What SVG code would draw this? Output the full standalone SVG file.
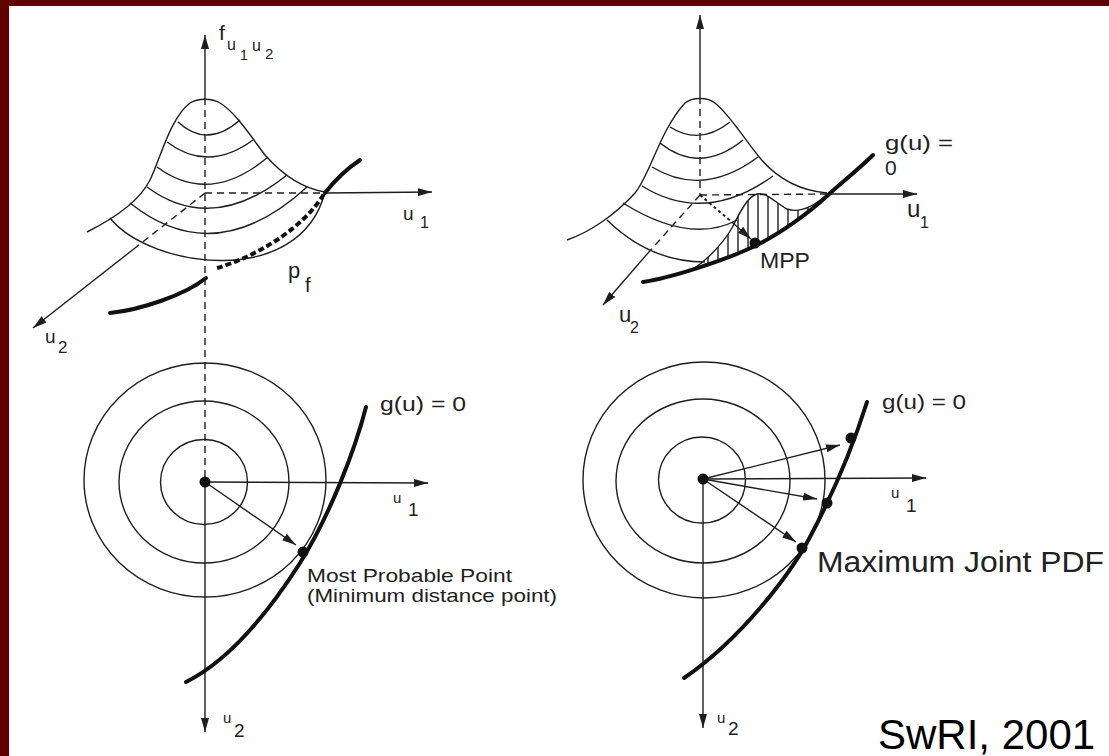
<svg xmlns="http://www.w3.org/2000/svg" width="1109" height="756" viewBox="0 0 1109 756">
<defs>
<style>
.ln{fill:none;stroke:#1e1e1e;stroke-width:1.4}
.ds{fill:none;stroke:#1e1e1e;stroke-width:1.4;stroke-dasharray:7 5}
.dt{fill:none;stroke:#1e1e1e;stroke-width:2;stroke-dasharray:3 3}
.bold{fill:none;stroke:#111;stroke-width:4;stroke-linecap:round}
.bdash{fill:none;stroke:#111;stroke-width:4;stroke-dasharray:6 3}
.dot{fill:#111}
.t{font-family:"Liberation Sans",Arial,sans-serif;fill:#222}
</style>
<marker id="ah" viewBox="0 0 14 8" refX="14" refY="4" markerWidth="14" markerHeight="8" markerUnits="userSpaceOnUse" orient="auto"><path d="M0,0 L14,4 L0,8 z" fill="#1e1e1e"/></marker>
<clipPath id="hatchClip"><path d="M690,271 C705,262 722,245 732,228 C740,212 748,196 757,194 C768,192 775,203 787,209 C800,214 815,205 827,195 C810,212 780,234 753,247 C735,255 710,266 690,271 Z"/></clipPath>
</defs>
<rect id="frame" width="1109" height="756" fill="#600000"/>
<rect x="9" y="6" width="1100" height="750" fill="#ffffff"/>

<g id="panel-top-left">
  <path class="ds" d="M205,98 L205,482"/>
  <path class="ln" d="M205,98 L205,35" marker-end="url(#ah)"/>
  <path class="ds" d="M205,193 L325,193"/>
  <path class="ln" d="M325,193 L432,192" marker-end="url(#ah)"/>
  <path class="ds" d="M205,193 L135,248"/>
  <path class="ln" d="M135,248 L33,328" marker-end="url(#ah)"/>
  <path class="ln" d="M87,232 C115,218 140,200 150,180 C160,160 170,118 190,103 C198,98 212,98 220,103 C235,112 250,135 265,155 C280,172 300,188 325,192"/>
  <path class="ln" d="M178,122 Q207,149 240,120"/>
  <path class="ln" d="M167,142 Q208,173 253,140"/>
  <path class="ln" d="M157,167 Q210,206 268,157"/>
  <path class="ln" d="M147,187 Q212,235 287,175"/>
  <path class="ln" d="M130,203 Q215,271 307,187"/>
  <path class="ln" d="M110,218 C150,268 300,290 325,192"/>
  <path class="bold" d="M110,313 C140,310 185,295 206,278"/>
  <path class="bdash" d="M217,268 C255,257 305,228 325,192"/>
  <path class="bold" d="M325,193 C335,180 348,168 360,160"/>
  <text class="t" x="219" y="40" font-size="21">f</text>
  <text class="t" x="227" y="50" font-size="16">u</text>
  <text class="t" x="240" y="60" font-size="14">1</text>
  <text class="t" x="252" y="51" font-size="16">u</text>
  <text class="t" x="265" y="59" font-size="15">2</text>
  <text class="t" x="403" y="220" font-size="19">u</text>
  <text class="t" x="420" y="228" font-size="16">1</text>
  <text class="t" x="45" y="343" font-size="19">u</text>
  <text class="t" x="58" y="353" font-size="17">2</text>
  <text class="t" x="288" y="278" font-size="22">p</text>
  <text class="t" x="305" y="292" font-size="20">f</text>
</g>

<g id="panel-top-right">
  <path class="ds" d="M700,97 L700,195"/>
  <path class="ln" d="M700,97 L700,15" marker-end="url(#ah)"/>
  <path class="ds" d="M700,195 L826,194"/>
  <path class="ln" d="M826,194 L917,194" marker-end="url(#ah)"/>
  <path class="ds" d="M700,195 L648,253"/>
  <path class="ln" d="M648,253 L603,305" marker-end="url(#ah)"/>
  <path class="ln" d="M567,240 C590,232 615,215 635,193 C650,175 660,130 685,103 C692,97 708,97 715,103 C730,115 745,140 760,158 C775,176 795,190 827,193"/>
  <path class="ln" d="M670,127 Q700,146 730,122"/>
  <path class="ln" d="M660,143 Q700,175 743,140"/>
  <path class="ln" d="M652,167 Q703,198 758,157"/>
  <path class="ln" d="M642,186 Q705,225 773,176"/>
  <path class="ln" d="M623,203 Q690,245 737,220"/>
  <path class="ln" d="M607,220 Q650,262 705,262"/>
  <g clip-path="url(#hatchClip)">
    <path class="ln" d="M698,180 V290 M708,180 V290 M718,180 V290 M728,180 V290 M738,180 V290 M748,180 V290 M758,180 V290 M768,180 V290 M778,180 V290 M788,180 V290 M798,180 V290 M808,180 V290 M818,180 V290"/>
  </g>
  <path class="ln" d="M690,271 C705,262 722,245 732,228 C740,212 748,196 757,194 C768,192 775,203 787,209 C800,214 815,205 827,195"/>
  <path class="dt" d="M700,195 L733,223"/>
  <path class="ln" d="M733,223 L751,239" marker-end="url(#ah)"/>
  <path class="bold" d="M643,282 C670,278 720,262 753,247 C780,234 810,212 827,196 C840,184 860,168 873,155"/>
  <circle class="dot" cx="755" cy="243" r="5.5"/>
  <text class="t" x="760" y="268" font-size="22" textLength="50" lengthAdjust="spacingAndGlyphs">MPP</text>
  <text class="t" x="885" y="150" font-size="21" textLength="68" lengthAdjust="spacingAndGlyphs">g(u) =</text>
  <text class="t" x="885" y="175" font-size="21">0</text>
  <text class="t" x="907" y="217" font-size="24">u</text>
  <text class="t" x="920" y="228" font-size="16">1</text>
  <text class="t" x="619" y="322" font-size="22">u</text>
  <text class="t" x="630" y="333" font-size="16">2</text>
</g>

<g id="panel-bottom-left">
  <ellipse class="ln" cx="204" cy="482" rx="43.5" ry="42.5"/>
  <ellipse class="ln" cx="204" cy="482" rx="85" ry="81"/>
  <ellipse class="ln" cx="205" cy="480" rx="121" ry="117"/>
  <path class="ln" d="M205,482 L428,483" marker-end="url(#ah)"/>
  <path class="ln" d="M205,482 L205,732" marker-end="url(#ah)"/>
  <path class="ln" d="M205,482 L296,545" marker-end="url(#ah)"/>
  <path class="bold" d="M366,407 C355,450 330,515 300,563 C270,610 230,660 186,682"/>
  <circle class="dot" cx="205" cy="482" r="5.5"/>
  <circle class="dot" cx="303" cy="552" r="5.5"/>
  <text class="t" x="380" y="411" font-size="21" textLength="86" lengthAdjust="spacingAndGlyphs">g(u) = 0</text>
  <text class="t" x="393" y="503" font-size="15">u</text>
  <text class="t" x="408" y="516" font-size="19">1</text>
  <text class="t" x="223" y="723" font-size="15">u</text>
  <text class="t" x="234" y="737" font-size="19">2</text>
  <text class="t" x="307" y="582" font-size="18.5" textLength="205" lengthAdjust="spacingAndGlyphs">Most Probable Point</text>
  <text class="t" x="307" y="602" font-size="18.5" textLength="250" lengthAdjust="spacingAndGlyphs">(Minimum distance point)</text>
</g>

<g id="panel-bottom-right">
  <ellipse class="ln" cx="702" cy="480" rx="43.5" ry="43"/>
  <ellipse class="ln" cx="703" cy="481" rx="87" ry="82"/>
  <ellipse class="ln" cx="704" cy="480" rx="121" ry="118"/>
  <path class="ln" d="M703,479 L926,478" marker-end="url(#ah)"/>
  <path class="ln" d="M703,479 L703,728" marker-end="url(#ah)"/>
  <path class="ln" d="M703,479 L840,445" marker-end="url(#ah)"/>
  <path class="ln" d="M703,479 L817,499" marker-end="url(#ah)"/>
  <path class="ln" d="M703,479 L796,542" marker-end="url(#ah)"/>
  <path class="bold" d="M867,402 C855,440 835,490 810,537 C790,575 740,640 684,678"/>
  <circle class="dot" cx="703" cy="479" r="5.5"/>
  <circle class="dot" cx="851" cy="438" r="5.5"/>
  <circle class="dot" cx="827" cy="503" r="5.5"/>
  <circle class="dot" cx="802" cy="548" r="5.5"/>
  <text class="t" x="882" y="409" font-size="21" textLength="84" lengthAdjust="spacingAndGlyphs">g(u) = 0</text>
  <text class="t" x="891" y="498" font-size="15">u</text>
  <text class="t" x="906" y="512" font-size="19">1</text>
  <text class="t" x="717" y="723" font-size="15">u</text>
  <text class="t" x="728" y="735" font-size="19">2</text>
  <text class="t" x="817" y="572" font-size="30" textLength="287" lengthAdjust="spacingAndGlyphs">Maximum Joint PDF</text>
</g>

<g id="credit">
  <text x="878" y="749" font-family="Liberation Sans, Arial, sans-serif" font-size="42" fill="#000">SwRI, 2001</text>
</g>
</svg>
